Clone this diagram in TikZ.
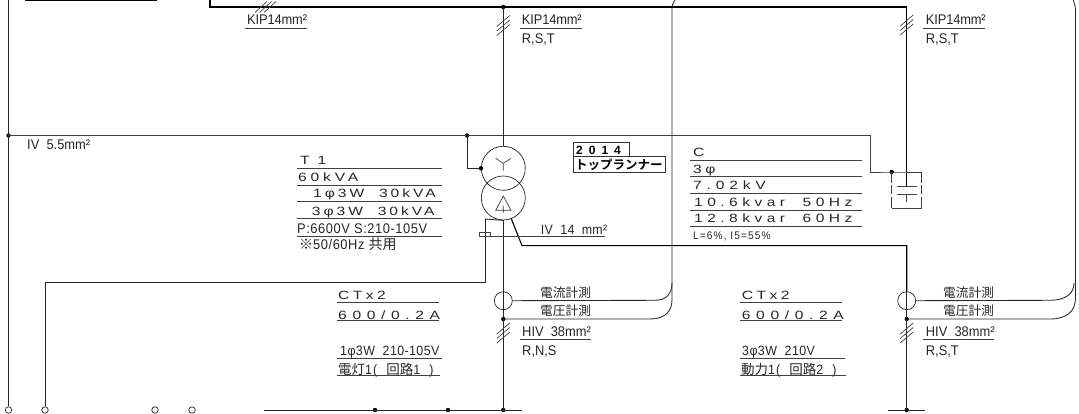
\documentclass[tikz,border=0pt]{standalone}
\usepackage{fontspec}
\setmainfont{Liberation Sans}
\newfontfamily\cjk{Noto Sans CJK JP}
\newcommand{\lsf}[2]{\fontspec[LetterSpace=#2,FakeStretch=0.92]{Liberation Sans}\fontsize{#1}{#1}\selectfont}
\newcommand{\lsw}[2]{\fontspec[LetterSpace=#2,FakeStretch=1.3]{Liberation Sans}\fontsize{#1}{#1}\selectfont}
\newcounter{lbl}
\usetikzlibrary{calc}
\tikzset{
  wire/.style={draw=black!85,line width=0.85pt},
  heavy/.style={draw=black,line width=1.1pt},
  thin wire/.style={draw=black!75,line width=0.7pt},
  rule/.style={draw=black!75,line width=0.8pt},
  lab/.style={inner sep=0pt,anchor=base west,text=black!85},
  dotn/.style={circle,fill=black,draw=none,inner sep=0pt,minimum size=4.4pt},
  term/.style={circle,draw=black!85,fill=white,line width=0.7pt,inner sep=0pt,minimum size=6.5pt},
  trafo/.style={circle,draw=black!85,line width=0.7pt,inner sep=0pt,minimum size=44pt},
  ct/.style={circle,draw=black!85,line width=0.7pt,inner sep=0pt,minimum size=18pt}
}
% \T{x}{y}{size}{spacing}{text}: narrow lettering
\newcommand{\T}[5]{\stepcounter{lbl}\node[lab] (t\thelbl) at (#1,#2) {\lsf{#3}{#4}#5};}
% \W{x}{y}{size}{spacing}{text}: wide lettering
\newcommand{\W}[5]{\stepcounter{lbl}\node[lab] (t\thelbl) at (#1,#2) {\lsw{#3}{#4}#5};}
% \R{x1}{x2}{y}
\newcommand{\R}[3]{\stepcounter{lbl}\coordinate (ra\thelbl) at (#1,#3);\coordinate (rb\thelbl) at (#2,#3);\draw[rule] (ra\thelbl) -- (rb\thelbl);}
\newcommand{\ticks}[2]{\foreach \d in {-4.5,0,4.5}{\draw[thin wire] ($(#1,#2)+(-6.5,5.5+\d)$) -- ($(#1,#2)+(6.5,-5.5+\d)$);}}
\begin{document}
\begin{tikzpicture}[x=1pt,y=-1pt]
\useasboundingbox (0,0) rectangle (1079,414);
\clip (0,0) rectangle (1079,414);
% junctions
\node[dotn] (jl) at (8.5,135.5) {};
\node[dotn] (jt) at (467,135.5) {};
\node[dotn] (jc) at (891.7,172) {};
\node[dotn] (jk) at (503.3,7) {};
\node[dotn] (jv1) at (503.3,319) {};
\node[dotn] (jv2) at (906.7,319) {};
\node[dotn] (b1) at (375,410) {};
\node[dotn] (b2) at (448,410) {};
\node[dotn] (b3) at (503.3,410) {};
\node[dotn] (b4) at (906.7,410) {};
\node[term] (o1) at (8.5,410) {};
\node[term] (o2) at (45,410) {};
\node[term] (o3) at (155,410) {};
\node[term] (o4) at (192,410) {};
\node[trafo] (ty) at (503.3,168.3) {};
\node[trafo] (td) at (503.3,198) {};
\node[ct] (ct1) at (503.3,300.7) {};
\node[ct] (ct2) at (906.7,300.7) {};
\node[dotn] (jy) at (481,168.3) {};
% free ends
\coordinate (tl0) at (25,0.3); \coordinate (tl1) at (157,0.3);
\coordinate (top0) at (210,-1); \coordinate (top1) at (210,7);
\coordinate (topr) at (906.7,7);
\coordinate (l0) at (8.5,-1);
\coordinate (h1) at (870,135.5); \coordinate (h2) at (870,172);
\coordinate (c1) at (921.7,172); \coordinate (c2) at (921.7,208); \coordinate (c3) at (891.7,208);
\coordinate (p1a) at (897,186.7); \coordinate (p1b) at (917,186.7);
\coordinate (p2a) at (897,194); \coordinate (p2b) at (917,194);
\coordinate (s1) at (906.7,202);
\coordinate (lt) at (485,219); \coordinate (lb) at (485,282); \coordinate (ll) at (45,282);
\coordinate (d1) at (511,218); \coordinate (d2) at (522,245.7); \coordinate (d3) at (906.7,245.7);
\coordinate (bl) at (264,410); \coordinate (bm) at (521.7,410);
\coordinate (brl) at (888,410); \coordinate (brr) at (925,410);
% wires
\draw[heavy] (tl0) -- (tl1);
\draw[heavy] (top0) -- (top1) -- (topr) -- (906.7,186.7);
\draw[wire] (l0) -- (jl.center) -- (o1);
\draw[thin wire] (jl.center) -- (h1) -- (h2) -- (jc.center) -- (c1);
\draw[wire] (jk.center) -- (ty.north);
\draw[wire] (jt.center) |- (jy.center);
\draw[wire] (td.south) -- (ct1.north);
\draw[wire] (ct1.south) -- (b3.center);
\draw[wire] (ct1.north) -- (ct1.south);
% capacitor
\draw[thin wire,dash pattern=on 11pt off 2.5pt on 9pt off 2.5pt on 11pt] (c1) -- (c2);
\draw[thin wire] (c2) -- (c3);
\draw[thin wire,dash pattern=on 11pt off 2.5pt on 9pt off 2.5pt on 11pt] (jc.center) -- (c3);
\draw[thin wire] (p1a) -- (p1b);
\draw[thin wire] (p2a) -- (p2b);
\draw[thin wire] (906.7,194) -- (s1);
% secondary
\draw[wire] (lt) -- (lb) -- (ll) -- (o2);
\draw[wire] (lt) -- (td.south);
\draw[heavy] (d1) -- (d2) -- (d3) -- (ct2.north);
\draw[wire] (ct2.north) -- (b4.center);
\draw[wire] (bl) -- (bm);
\draw[wire] (brl) -- (brr);
% small fuse
\draw[thin wire] (479,232.7) rectangle (490.7,236.7);
% wye and delta
\draw[thin wire] (495.7,158.3) -- (503.3,163.3) -- (511,158.3) (503.3,163.3) -- (503.3,170.7);
\draw[thin wire] (503.3,196) -- (495.7,210.3) -- (511,210.3) -- cycle (503.3,206) -- (503.3,213);
% measuring lines
\draw[wire] (ct1.east) -- (655,300.3) .. controls (666,300.3) and (672,294) .. (672,283);
\draw[wire] (jv1.center) -- (650,319) .. controls (664,319) and (672,312) .. (672,300) -- (672,283) -- (672,8) .. controls (672,4) and (674,2) .. (675.5,-1);
\draw[wire] (ct2.east) -- (1050,300.3) .. controls (1065,300.3) and (1074,294) .. (1074,283);
\draw[wire] (jv2.center) -- (1050,319) .. controls (1066,319) and (1075.5,312) .. (1075.5,298) -- (1075.5,10) .. controls (1075.5,6) and (1074,3) .. (1073,-1);
% ticks
\ticks{503.3}{25.5}
\ticks{906.7}{25}
\ticks{503.3}{333}
\ticks{906.7}{333}
\foreach \d in {-4.5,0,4.5}{\draw[thin wire] ($(265.5,7)+(-6+\d,5.5)$) -- ($(265.5,7)+(6+\d,-5.5)$);}
% IV 14 line
\R{490.7}{605}{236.7}
% texts top
\T{247}{25}{14}{-1}{KIP14mm²} \R{245}{307}{28}
\T{27}{150}{14}{0}{IV\ \ 5.5mm²}
\T{521.7}{25}{14}{-1}{KIP14mm²} \R{520}{581.7}{28}
\T{521.7}{44}{14}{0}{R,S,T}
\T{925.7}{25}{14}{-1}{KIP14mm²} \R{923}{985}{28}
\T{925.7}{44}{14}{0}{R,S,T}
% T1
\W{300}{165}{12}{30}{T 1}
\R{296.7}{441.7}{168.3}
\W{298}{181.7}{12}{32}{60kVA}
\R{296.7}{441.7}{185}
\W{313}{198}{12}{25}{1φ3W\ \ 30kVA}
\R{296.7}{441.7}{201.7}
\W{311.7}{215}{12}{25}{3φ3W\ \ 30kVA}
\R{296.7}{441.7}{218.3}
\T{297}{233.3}{14}{4}{P:6600V S:210-105V}
\R{296.7}{441.7}{236.3}
\T{299}{250}{14}{4}{{\cjk ※}50/60Hz {\cjk 共用}}
% badge
\draw[line width=0.9pt,draw=black!80] (573.3,142.7) rectangle (629,156.7);
\draw[line width=0.9pt,draw=black!80] (573.3,156.7) rectangle (665,172.3);
\node[inner sep=0pt,anchor=base west] (yr) at (576,154.5) {\fontspec[LetterSpace=50]{Liberation Sans Bold}\fontsize{12}{12}\selectfont 2014};
\node[inner sep=0pt,anchor=base west] (tr) at (575,169.3) {\fontspec{Noto Sans CJK JP Bold}\fontsize{12.5}{12.5}\selectfont トップランナー};
% C table
\W{693}{156.7}{12}{30}{C}
\R{690}{861.7}{160}
\W{693}{173.3}{12}{30}{3φ}
\R{690}{861.7}{176.7}
\W{693}{189.5}{12}{40}{7.02kV}
\R{690}{861.7}{193.3}
\W{694}{206.7}{12}{37}{10.6kvar\ \ 50Hz}
\R{690}{861.7}{210}
\W{694}{223}{12}{37}{12.8kvar\ \ 60Hz}
\R{690}{861.7}{226.7}
\T{693}{240}{11}{10}{L=6\%, I5=55\%}
\T{540.7}{235}{13.5}{2}{IV\ \ 14\ \ mm²}
% left block
\W{338}{299.3}{12}{29}{CTx2}
\R{337}{439}{302.7}
\W{338}{319}{12}{47}{600/0.2A}
\R{337}{439}{320.7}
\T{340}{355}{13.5}{3}{1φ3W\ \ 210-105V}
\R{337}{441.7}{358.3}
\node[lab] (c1l) at (338,374) {\lsf{13.5}{8}{\cjk 電灯}1(\ \ {\cjk 回路}1\ \ )};
\R{337}{440}{375.7}
\node[lab] (m1) at (540,297) {\fontsize{12.7}{12.7}\cjk 電流計測};
\node[lab] (m2) at (540,315.7) {\fontsize{12.7}{12.7}\cjk 電圧計測};
\T{522}{336.7}{14}{0}{HIV\ \ 38mm²}
\R{520}{590.7}{339.3}
\T{522}{355}{14}{0}{R,N,S}
% right block
\W{741.7}{299.3}{12}{29}{CTx2}
\R{740}{842}{302.7}
\W{741.7}{319}{12}{47}{600/0.2A}
\R{740}{842}{320.7}
\T{742}{355}{13.5}{3}{3φ3W\ \ 210V}
\R{740}{845}{358.3}
\node[lab] (c2l) at (741,374) {\lsf{13.5}{8}{\cjk 動力}1(\ \ {\cjk 回路}2\ \ )};
\R{740}{846}{375.7}
\node[lab] (m3) at (943,297) {\fontsize{12.7}{12.7}\cjk 電流計測};
\node[lab] (m4) at (943,315.7) {\fontsize{12.7}{12.7}\cjk 電圧計測};
\T{925.7}{336.7}{14}{0}{HIV\ \ 38mm²}
\R{923}{994}{339.3}
\T{925.7}{355}{14}{0}{R,S,T}
\end{tikzpicture}
\end{document}
